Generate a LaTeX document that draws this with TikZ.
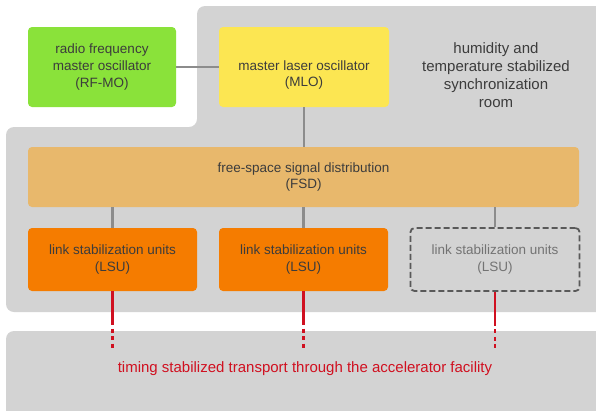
\documentclass[tikz,border=0pt]{standalone}
\usepackage{fontspec}
\setmainfont{Liberation Sans}
\definecolor{roomgray}{RGB}{211, 211, 211}
\definecolor{rfgreen}{RGB}{138, 226, 58}
\definecolor{mloyellow}{RGB}{252, 230, 82}
\definecolor{fsdsand}{RGB}{232, 184, 108}
\definecolor{lsuorange}{RGB}{245, 124, 0}
\definecolor{wiregray}{RGB}{140, 140, 140}
\definecolor{textgray}{RGB}{60, 60, 60}
\definecolor{linkred}{RGB}{208, 16, 32}

\begin{document}
\begin{tikzpicture}[x=1pt, y=-1pt,
        box/.style={rounded corners=4pt, align=center, inner sep=0pt, text=textgray,
                    font=\fontsize{13.5}{16.7}\selectfont},
        wire/.style={draw=wiregray, line width=2.5pt},
        fiber/.style={draw=linkred, line width=2.5pt}]
            \useasboundingbox (0,0) rectangle (596,410);

            % synchronization room and accelerator tunnel
            \fill[roomgray, rounded corners=8pt] (197,6) -- (610,6) -- (610,312) -- (6,312) -- (6,127) -- (197,127) -- cycle;
            \fill[roomgray, rounded corners=8pt] (6,331) rectangle (610,420);

            \node[box, fill=rfgreen,   minimum width=148pt, minimum height=80pt] (rfmo) at (102.0, 67.0) {radio frequency\\master oscillator\\(RF-MO)};
            \node[box, fill=mloyellow, minimum width=170pt, minimum height=80pt,
                  label={[name=mlotext, text=textgray, align=center, font=\fontsize{13.5}{16.7}\selectfont, yshift=-8pt]center:master laser oscillator\\(MLO)}]
                  (mlo)  at (304.0, 67.0) {};
            \node[text=textgray, align=center, font=\fontsize{15}{18}\selectfont] (room) at (496.0, 75.5)
                 {humidity and\\temperature stabilized\\synchronization\\room};
            \node[box, fill=fsdsand,   minimum width=551pt, minimum height=60pt] (fsd)  at (303.5,177.0) {free-space signal distribution\\(FSD)};

            \node[box, fill=lsuorange, minimum width=169pt, minimum height=63pt] (lsua) at (112.5,259.5) {link stabilization units\\(LSU)};
            \node[box, fill=lsuorange, minimum width=169pt, minimum height=63pt] (lsub) at (303.5,259.5) {link stabilization units\\(LSU)};
            \node[box, draw=black!65, dash pattern=on 6pt off 3pt, line width=1.8pt, text=black!55,
                  minimum width=169pt, minimum height=63pt] (lsuc) at (495.0,259.5) {link stabilization units\\(LSU)};

            \node[text=linkred, font=\fontsize{15}{18}\selectfont] (tunnel) at (305.0,369.0)
                 {timing stabilized transport through the accelerator facility};

            % gray wiring inside the room
            \draw[wire] (rfmo.east) -- (mlo.west);
            \draw[wire] (mlo.south) -- (mlo.south |- fsd.north);
            \foreach \u in {lsua, lsub, lsuc}
                \draw[wire] (\u.north |- fsd.south) -- (\u.north);

            % fibre links leaving the room
            \foreach \u in {lsua, lsub, lsuc} {
                \coordinate (\u-wall) at ([yshift=-30pt]\u.south);
                \coordinate (\u-end)  at ([yshift=-57pt]\u.south);
                \draw[fiber] (\u.south) -- (\u-wall);
                \draw[fiber, dash pattern=on 4pt off 3.5pt] (\u-wall) -- (\u-end);
            }
        \end{tikzpicture}
\end{document}
